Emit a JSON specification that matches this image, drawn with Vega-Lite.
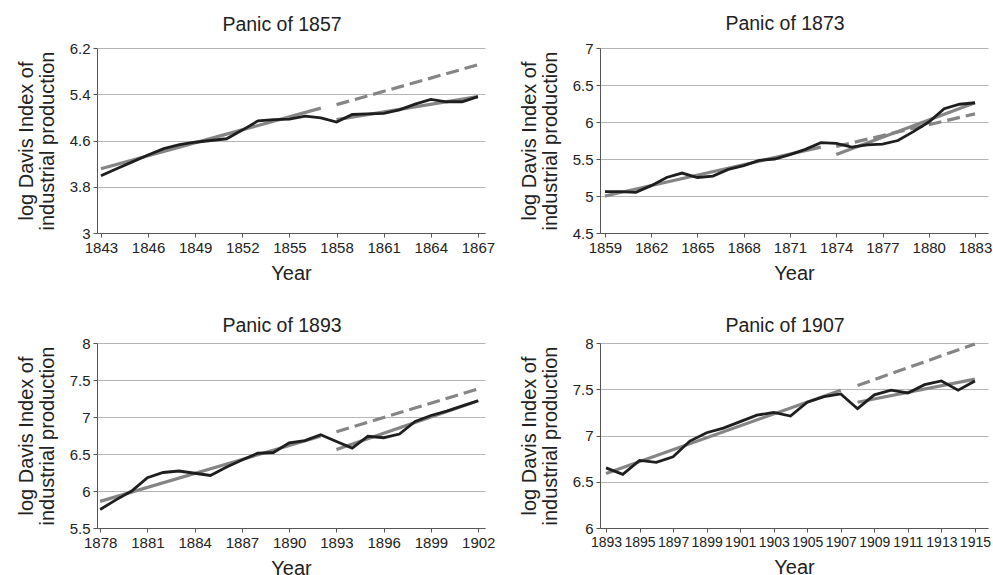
{
  "$schema": "https://vega.github.io/schema/vega-lite/v6.json",
  "padding": {"left": 16, "top": 13, "right": 0, "bottom": 0},
  "background": "white",
  "bounds": "flush",
  "columns": 2,
  "spacing": {"row": 110, "column": 115},
  "datasets": {
    "p1857": [
      {"year": 1843, "value": 3.99, "series": "actual"}, {"year": 1844, "value": 4.11, "series": "actual"},
      {"year": 1845, "value": 4.23, "series": "actual"}, {"year": 1846, "value": 4.35, "series": "actual"},
      {"year": 1847, "value": 4.46, "series": "actual"}, {"year": 1848, "value": 4.53, "series": "actual"},
      {"year": 1849, "value": 4.57, "series": "actual"}, {"year": 1850, "value": 4.6, "series": "actual"},
      {"year": 1851, "value": 4.63, "series": "actual"}, {"year": 1852, "value": 4.78, "series": "actual"},
      {"year": 1853, "value": 4.94, "series": "actual"}, {"year": 1854, "value": 4.96, "series": "actual"},
      {"year": 1855, "value": 4.97, "series": "actual"}, {"year": 1856, "value": 5.02, "series": "actual"},
      {"year": 1857, "value": 4.99, "series": "actual"}, {"year": 1858, "value": 4.92, "series": "actual"},
      {"year": 1859, "value": 5.05, "series": "actual"}, {"year": 1860, "value": 5.06, "series": "actual"},
      {"year": 1861, "value": 5.07, "series": "actual"}, {"year": 1862, "value": 5.13, "series": "actual"},
      {"year": 1863, "value": 5.23, "series": "actual"}, {"year": 1864, "value": 5.31, "series": "actual"},
      {"year": 1865, "value": 5.27, "series": "actual"}, {"year": 1866, "value": 5.27, "series": "actual"},
      {"year": 1867, "value": 5.36, "series": "actual"},
      {"year": 1843, "value": 4.11, "series": "pre"}, {"year": 1857, "value": 5.16, "series": "pre"},
      {"year": 1858, "value": 5.22, "series": "proj"}, {"year": 1867, "value": 5.91, "series": "proj"},
      {"year": 1858, "value": 4.96, "series": "post"}, {"year": 1867, "value": 5.36, "series": "post"}
    ],
    "p1873": [
      {"year": 1859, "value": 5.06, "series": "actual"}, {"year": 1860, "value": 5.06, "series": "actual"},
      {"year": 1861, "value": 5.05, "series": "actual"}, {"year": 1862, "value": 5.14, "series": "actual"},
      {"year": 1863, "value": 5.25, "series": "actual"}, {"year": 1864, "value": 5.31, "series": "actual"},
      {"year": 1865, "value": 5.25, "series": "actual"}, {"year": 1866, "value": 5.27, "series": "actual"},
      {"year": 1867, "value": 5.36, "series": "actual"}, {"year": 1868, "value": 5.41, "series": "actual"},
      {"year": 1869, "value": 5.48, "series": "actual"}, {"year": 1870, "value": 5.5, "series": "actual"},
      {"year": 1871, "value": 5.56, "series": "actual"}, {"year": 1872, "value": 5.63, "series": "actual"},
      {"year": 1873, "value": 5.72, "series": "actual"}, {"year": 1874, "value": 5.71, "series": "actual"},
      {"year": 1875, "value": 5.66, "series": "actual"}, {"year": 1876, "value": 5.69, "series": "actual"},
      {"year": 1877, "value": 5.7, "series": "actual"}, {"year": 1878, "value": 5.75, "series": "actual"},
      {"year": 1879, "value": 5.87, "series": "actual"}, {"year": 1880, "value": 6.0, "series": "actual"},
      {"year": 1881, "value": 6.18, "series": "actual"}, {"year": 1882, "value": 6.24, "series": "actual"},
      {"year": 1883, "value": 6.26, "series": "actual"},
      {"year": 1859, "value": 5.0, "series": "pre"}, {"year": 1873, "value": 5.66, "series": "pre"},
      {"year": 1874, "value": 5.67, "series": "proj"}, {"year": 1883, "value": 6.11, "series": "proj"},
      {"year": 1874, "value": 5.56, "series": "post"}, {"year": 1883, "value": 6.26, "series": "post"}
    ],
    "p1893": [
      {"year": 1878, "value": 5.75, "series": "actual"}, {"year": 1879, "value": 5.88, "series": "actual"},
      {"year": 1880, "value": 6.0, "series": "actual"}, {"year": 1881, "value": 6.18, "series": "actual"},
      {"year": 1882, "value": 6.25, "series": "actual"}, {"year": 1883, "value": 6.27, "series": "actual"},
      {"year": 1884, "value": 6.24, "series": "actual"}, {"year": 1885, "value": 6.21, "series": "actual"},
      {"year": 1886, "value": 6.32, "series": "actual"}, {"year": 1887, "value": 6.42, "series": "actual"},
      {"year": 1888, "value": 6.51, "series": "actual"}, {"year": 1889, "value": 6.52, "series": "actual"},
      {"year": 1890, "value": 6.65, "series": "actual"}, {"year": 1891, "value": 6.68, "series": "actual"},
      {"year": 1892, "value": 6.76, "series": "actual"}, {"year": 1893, "value": 6.67, "series": "actual"},
      {"year": 1894, "value": 6.58, "series": "actual"}, {"year": 1895, "value": 6.74, "series": "actual"},
      {"year": 1896, "value": 6.72, "series": "actual"}, {"year": 1897, "value": 6.77, "series": "actual"},
      {"year": 1898, "value": 6.94, "series": "actual"}, {"year": 1899, "value": 7.02, "series": "actual"},
      {"year": 1900, "value": 7.08, "series": "actual"}, {"year": 1901, "value": 7.15, "series": "actual"},
      {"year": 1902, "value": 7.22, "series": "actual"},
      {"year": 1878, "value": 5.86, "series": "pre"}, {"year": 1892, "value": 6.74, "series": "pre"},
      {"year": 1893, "value": 6.8, "series": "proj"}, {"year": 1902, "value": 7.38, "series": "proj"},
      {"year": 1893, "value": 6.56, "series": "post"}, {"year": 1902, "value": 7.22, "series": "post"}
    ],
    "p1907": [
      {"year": 1893, "value": 6.65, "series": "actual"}, {"year": 1894, "value": 6.58, "series": "actual"},
      {"year": 1895, "value": 6.73, "series": "actual"}, {"year": 1896, "value": 6.71, "series": "actual"},
      {"year": 1897, "value": 6.77, "series": "actual"}, {"year": 1898, "value": 6.94, "series": "actual"},
      {"year": 1899, "value": 7.03, "series": "actual"}, {"year": 1900, "value": 7.08, "series": "actual"},
      {"year": 1901, "value": 7.15, "series": "actual"}, {"year": 1902, "value": 7.22, "series": "actual"},
      {"year": 1903, "value": 7.25, "series": "actual"}, {"year": 1904, "value": 7.21, "series": "actual"},
      {"year": 1905, "value": 7.36, "series": "actual"}, {"year": 1906, "value": 7.42, "series": "actual"},
      {"year": 1907, "value": 7.45, "series": "actual"}, {"year": 1908, "value": 7.29, "series": "actual"},
      {"year": 1909, "value": 7.44, "series": "actual"}, {"year": 1910, "value": 7.49, "series": "actual"},
      {"year": 1911, "value": 7.46, "series": "actual"}, {"year": 1912, "value": 7.55, "series": "actual"},
      {"year": 1913, "value": 7.59, "series": "actual"}, {"year": 1914, "value": 7.49, "series": "actual"},
      {"year": 1915, "value": 7.59, "series": "actual"},
      {"year": 1893, "value": 6.59, "series": "pre"}, {"year": 1907, "value": 7.49, "series": "pre"},
      {"year": 1908, "value": 7.54, "series": "proj"}, {"year": 1915, "value": 7.99, "series": "proj"},
      {"year": 1908, "value": 7.36, "series": "post"}, {"year": 1915, "value": 7.61, "series": "post"}
    ]
  },
  "concat": [
    {
      "width": 388, "height": 185,
      "title": {"text": "Panic of 1857", "offset": 6},
      "data": {"name": "p1857"},
      "encoding": {
        "x": {"field": "year", "type": "quantitative", "scale": {"domain": [1842.75, 1867.45], "nice": false, "zero": false},
              "axis": {"values": [1843, 1846, 1849, 1852, 1855, 1858, 1861, 1864, 1867], "format": "d", "title": "Year"}},
        "y": {"field": "value", "type": "quantitative", "scale": {"domain": [3, 6.2], "nice": false, "zero": false},
              "axis": {"values": [3, 3.8, 4.6, 5.4, 6.2], "format": "~g", "title": ["log Davis Index of", "industrial production"]}}
      },
      "layer": [
        {"transform": [{"filter": "datum.series === 'pre' || datum.series === 'post'"}], "mark": {"type": "line", "color": "#858585", "strokeWidth": 3.2}, "encoding": {"detail": {"field": "series"}}},
        {"transform": [{"filter": "datum.series === 'proj'"}], "mark": {"type": "line", "color": "#858585", "strokeWidth": 3.2, "strokeDash": [13, 6]}},
        {"transform": [{"filter": "datum.series === 'actual'"}], "mark": {"type": "line", "color": "#1e1e1e", "strokeWidth": 2.8}}
      ]
    },
    {
      "width": 388, "height": 185,
      "title": {"text": "Panic of 1873", "offset": 7},
      "data": {"name": "p1873"},
      "encoding": {
        "x": {"field": "year", "type": "quantitative", "scale": {"domain": [1858.68, 1883.84], "nice": false, "zero": false},
              "axis": {"values": [1859, 1862, 1865, 1868, 1871, 1874, 1877, 1880, 1883], "format": "d", "title": "Year"}},
        "y": {"field": "value", "type": "quantitative", "scale": {"domain": [4.5, 7], "nice": false, "zero": false},
              "axis": {"values": [4.5, 5, 5.5, 6, 6.5, 7], "format": "~g", "title": ["log Davis Index of", "industrial production"]}}
      },
      "layer": [
        {"transform": [{"filter": "datum.series === 'pre' || datum.series === 'post'"}], "mark": {"type": "line", "color": "#858585", "strokeWidth": 3.2}, "encoding": {"detail": {"field": "series"}}},
        {"transform": [{"filter": "datum.series === 'proj'"}], "mark": {"type": "line", "color": "#858585", "strokeWidth": 3.2, "strokeDash": [13, 6]}},
        {"transform": [{"filter": "datum.series === 'actual'"}], "mark": {"type": "line", "color": "#1e1e1e", "strokeWidth": 2.8}}
      ]
    },
    {
      "width": 388, "height": 185,
      "title": {"text": "Panic of 1893", "offset": 0},
      "data": {"name": "p1893"},
      "encoding": {
        "x": {"field": "year", "type": "quantitative", "scale": {"domain": [1877.8, 1902.43], "nice": false, "zero": false},
              "axis": {"values": [1878, 1881, 1884, 1887, 1890, 1893, 1896, 1899, 1902], "format": "d", "title": "Year"}},
        "y": {"field": "value", "type": "quantitative", "scale": {"domain": [5.5, 8], "nice": false, "zero": false},
              "axis": {"values": [5.5, 6, 6.5, 7, 7.5, 8], "format": "~g", "title": ["log Davis Index of", "industrial production"]}}
      },
      "layer": [
        {"transform": [{"filter": "datum.series === 'pre' || datum.series === 'post'"}], "mark": {"type": "line", "color": "#858585", "strokeWidth": 3.2}, "encoding": {"detail": {"field": "series"}}},
        {"transform": [{"filter": "datum.series === 'proj'"}], "mark": {"type": "line", "color": "#858585", "strokeWidth": 3.2, "strokeDash": [13, 6]}},
        {"transform": [{"filter": "datum.series === 'actual'"}], "mark": {"type": "line", "color": "#1e1e1e", "strokeWidth": 2.8}}
      ]
    },
    {
      "width": 388, "height": 185,
      "title": {"text": "Panic of 1907", "offset": 0},
      "data": {"name": "p1907"},
      "encoding": {
        "x": {"field": "year", "type": "quantitative", "scale": {"domain": [1892.64, 1915.78], "nice": false, "zero": false},
              "axis": {"values": [1893, 1895, 1897, 1899, 1901, 1903, 1905, 1907, 1909, 1911, 1913, 1915], "format": "d", "title": "Year", "labelFontSize": 14}},
        "y": {"field": "value", "type": "quantitative", "scale": {"domain": [6, 8], "nice": false, "zero": false},
              "axis": {"values": [6, 6.5, 7, 7.5, 8], "format": "~g", "title": ["log Davis Index of", "industrial production"]}}
      },
      "layer": [
        {"transform": [{"filter": "datum.series === 'pre' || datum.series === 'post'"}], "mark": {"type": "line", "color": "#858585", "strokeWidth": 3.2}, "encoding": {"detail": {"field": "series"}}},
        {"transform": [{"filter": "datum.series === 'proj'"}], "mark": {"type": "line", "color": "#858585", "strokeWidth": 3.2, "strokeDash": [13, 6]}},
        {"transform": [{"filter": "datum.series === 'actual'"}], "mark": {"type": "line", "color": "#1e1e1e", "strokeWidth": 2.8}}
      ]
    }
  ],
  "config": {
    "view": {"stroke": null},
    "font": "Liberation Sans",
    "title": {"font": "Liberation Sans", "fontSize": 19.5, "fontWeight": "normal", "color": "#222", "dx": -9, "baseline": "alphabetic", "anchor": "middle"},
    "axis": {
      "labelFont": "Liberation Sans",
      "labelFontSize": 15, "labelColor": "#222",
      "titleFont": "Liberation Sans", "titleFontSize": 20, "titleFontWeight": "normal", "titleColor": "#222",
      "domainColor": "#555", "tickColor": "#555", "tickSize": 4, "labelPadding": 3,
      "labelOverlap": false, "labelFlush": false, "gridColor": "#b5b5b5", "gridWidth": 1
    },
    "axisX": {"grid": false, "titlePadding": 8},
    "axisY": {"grid": true, "titlePadding": 12, "titleLineHeight": 21}
  }
}
